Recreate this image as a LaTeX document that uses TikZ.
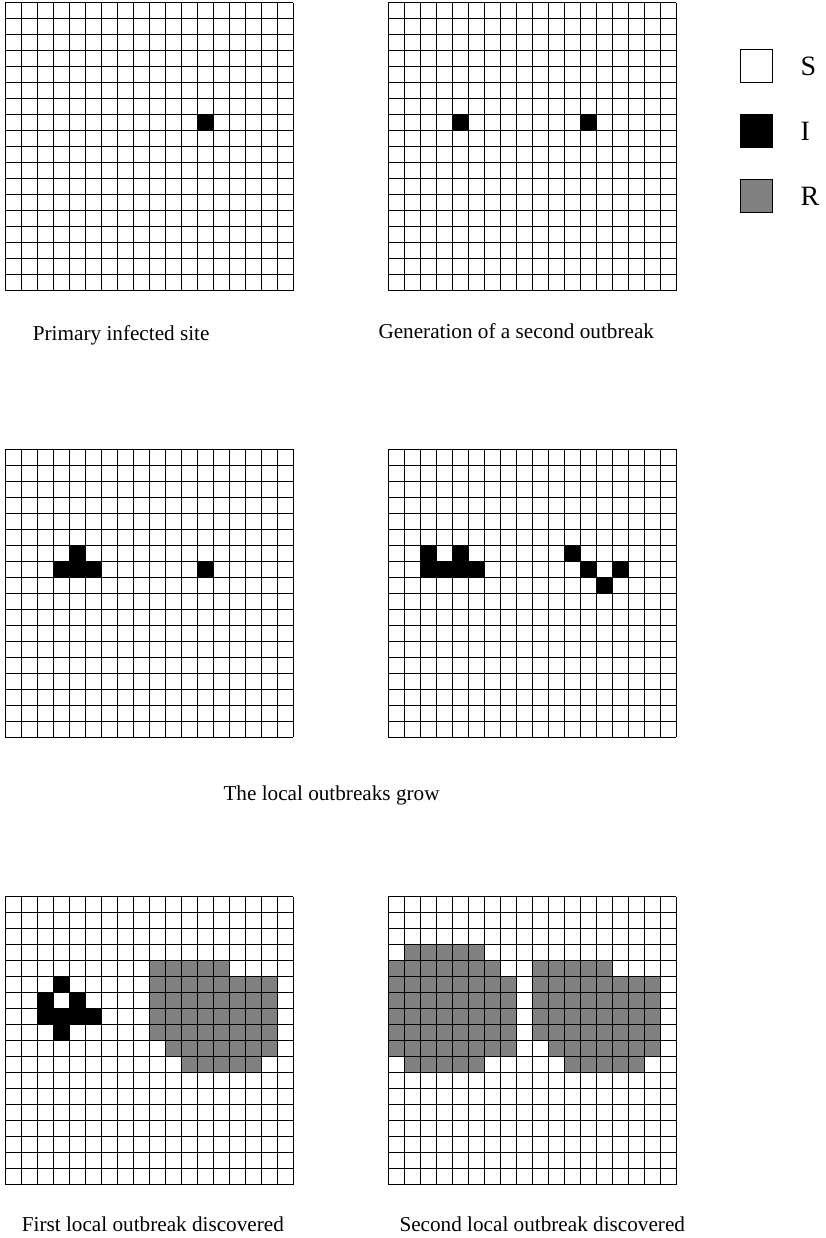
\documentclass[tikz,border=0pt]{standalone}
\usepackage{fontspec}
\setmainfont{Liberation Serif}
\usetikzlibrary{positioning}
\tikzstyle{lattice} = [draw=black, line width=0.9pt]
\tikzstyle{infected} = [fill=black]
\tikzstyle{removed} = [fill=gray]
\tikzstyle{caption} = [anchor=base west, inner sep=0pt, font=\fontsize{21.2}{24}\selectfont]
\tikzstyle{legendbox} = [rectangle, draw=black, line width=0.9pt, minimum size=32.7pt, inner sep=0pt]
\tikzstyle{legendtext} = [inner sep=0pt, font=\fontsize{28}{32}\selectfont]
% 18x18 lattice, cells of 16
\newcommand{\drawlattice}{%
  \foreach \i in {0,...,18} {
    \draw[lattice] (\i*16,0) -- (\i*16,288);
    \draw[lattice] (0,\i*16) -- (288,\i*16);
  }}
\newcommand{\sitecell}[3]{\fill[#3] (#1*16,#2*16) rectangle ++(16,16);}

\begin{document}
\begin{tikzpicture}[x=1pt, y=-1pt]
    \useasboundingbox (0,0) rectangle (825,1238);

    % Primary infected site
    \begin{scope}[shift={(5.3,2.7)}]
        \sitecell{12}{7}{infected}
        \drawlattice
    \end{scope}

    % Second outbreak
    \begin{scope}[shift={(388.3,2.7)}]
        \foreach \c/\r in {4/7, 12/7} {\sitecell{\c}{\r}{infected}}
        \drawlattice
    \end{scope}

    % Local outbreaks grow
    \begin{scope}[shift={(5.3,449.3)}]
        \foreach \c/\r in {4/6, 3/7, 4/7, 5/7, 12/7} {\sitecell{\c}{\r}{infected}}
        \drawlattice
    \end{scope}
    \begin{scope}[shift={(388.3,449.3)}]
        \foreach \c/\r in {2/6, 4/6, 2/7, 3/7, 4/7, 5/7, 11/6, 12/7, 14/7, 13/8} {\sitecell{\c}{\r}{infected}}
        \drawlattice
    \end{scope}

    % First outbreak discovered
    \begin{scope}[shift={(5.3,896.7)}]
        \foreach \c/\r in {3/5, 2/6, 4/6, 2/7, 3/7, 4/7, 5/7, 3/8} {\sitecell{\c}{\r}{infected}}
        \foreach \r/\a/\b in {4/9/13, 5/9/16, 6/9/16, 7/9/16, 8/9/16, 9/10/16, 10/11/15} {
            \foreach \c in {\a,...,\b} {\sitecell{\c}{\r}{removed}}
        }
        \drawlattice
    \end{scope}

    % Second outbreak discovered
    \begin{scope}[shift={(388.3,896.7)}]
        \foreach \r/\a/\b in {3/1/5, 4/0/6, 5/0/7, 6/0/7, 7/0/7, 8/0/7, 9/0/7, 10/1/5,
                              4/9/13, 5/9/16, 6/9/16, 7/9/16, 8/9/16, 9/10/16, 10/11/15} {
            \foreach \c in {\a,...,\b} {\sitecell{\c}{\r}{removed}}
        }
        \drawlattice
    \end{scope}

    % Captions
    \node[caption] (capA) at (32.7,340.5) {Primary infected site};
    \node[caption] (capB) at (378.3,338.3) {Generation of a second outbreak};
    \node[caption] (capC) at (223.3,800.3) {The local outbreaks grow};
    \node[caption] (capD) at (21.7,1231.7) {First local outbreak discovered};
    \node[caption] (capE) at (399.3,1231.7) {Second local outbreak discovered};

    % Legend
    \node[legendbox, fill=white] (boxS) at (756.3,66.3) {};
    \node[legendbox, fill=black, below=31.3pt of boxS] (boxI) {};
    \node[legendbox, fill=gray, below=31.3pt of boxI] (boxR) {};
    \node[legendtext, right=27.3pt of boxS] (labS) {S};
    \node[legendtext, right=27.3pt of boxI] (labI) {I};
    \node[legendtext, right=27.3pt of boxR] (labR) {R};
\end{tikzpicture}
\end{document}
